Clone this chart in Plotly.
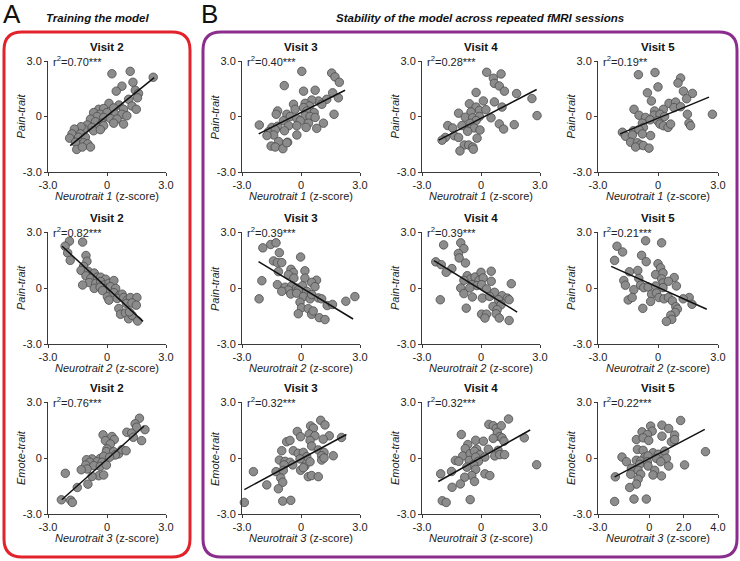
import plotly.graph_objects as go

W, H = 740, 561

# ---------------- data ----------------
# Panel A, row 1: Visit 2, Neurotrait 1 vs Pain-trait
a1_x = [0.25, 1.18, 2.35, 1.32, 0.76, 0.47, 1.44, 1.6, 1.55, 1.1, 0.1, 0.61, 1.27, 1.49, -0.42, -0.17, 0.34, 0.84,
        -0.68, -0.34, 0.0, 0.42, 0.76, -0.51, -0.17, 0.17, 0.51, 1.01, -0.84, -0.59, -0.25, 0.34, 0.84, -1.01, -0.76,
        -0.42, -0.17, -1.18, -0.68, -0.34, -1.32, -1.66, -1.78, -1.35, -1.9, -1.44, -1.1, -1.6, -1.18, -0.98, -1.54,
        -0.84, -1.25]
a1_y = [2.31, 2.44, 2.12, 1.85, 1.64, 1.37, 1.42, 1.25, 1.01, 0.93, 0.71, 0.62, 0.57, 0.39, 0.39, 0.43, 0.46, 0.39,
        0.21, 0.12, 0.21, 0.12, 0.12, 0.0, -0.05, -0.11, -0.14, 0.04, -0.14, -0.28, -0.36, -0.36, -0.41, -0.46, -0.59,
        -0.59, -0.5, -0.68, -0.77, -0.71, -0.55, -0.68, -0.94, -0.94, -1.17, -1.12, -1.12, -1.39, -1.42, -1.48, -1.78,
        -1.65, -1.65]
a1_fit_x = [-1.87, 2.4]
a1_fit_y = [-1.57, 2.1]

# Panel A, row 2: Visit 2, Neurotrait 2 vs Pain-trait
a2_x = [-1.91, -2.13, -1.24, -2.0, -1.87, -1.07, -1.02, -1.19, -1.32, -0.95, -1.07, -0.65, -0.82, -0.49, -0.32, -0.07,
        -0.9, -0.57, -0.32, -0.15, 0.1, 0.35, -1.24, -0.65, -0.35, -0.02, 0.18, 0.44, -0.23, 0.02, 0.1, 0.35, 0.6, 0.77,
        0.52, 0.85, 1.02, 1.19, 1.52, 0.99, 1.27, 1.49, 0.6, 0.69, 0.94, 1.1, 1.27, 1.56, 1.14]
a2_y = [2.51, 2.24, 2.46, 1.88, 1.48, 1.74, 1.43, 1.16, 0.94, 0.89, 0.65, 0.8, 0.52, 0.58, 0.58, 0.47, 0.29, 0.25,
        0.34, 0.16, 0.25, 0.4, 0.16, -0.02, 0.04, -0.02, 0.07, -0.02, -0.14, -0.47, -0.65, -0.25, -0.43, -0.33, -0.56,
        -0.51, -0.65, -0.51, -0.51, -0.83, -0.8, -0.92, -1.1, -1.41, -1.34, -1.65, -1.46, -1.77, -1.28]
a2_fit_x = [-2.28, 1.83]
a2_fit_y = [2.24, -1.79]

# Panel A, row 3: Visit 2, Neurotrait 3 vs Emote-trait
a3_x = [1.65, 1.43, 1.93, 1.01, 1.26, 1.51, 1.34, 1.76, -0.2, 0.25, 0.37, -0.08, 0.17, 0.0, -0.03, 0.34, 0.59, 0.76,
        0.97, 0.42, -0.34, -0.17, 0.13, -0.76, -1.04, -0.87, -0.5, -0.25, -1.08, -0.67, -0.34, -0.03, -1.01, -1.31,
        -0.42, -0.17, -0.76, -0.97, -1.51, -2.12, -2.32, -1.85, -1.76]
a3_y = [2.13, 1.83, 1.52, 1.38, 1.34, 1.65, 1.11, 0.93, 1.24, 1.15, 0.99, 0.93, 0.75, 0.48, 0.34, 0.34, 0.22, 0.45,
        0.39, 0.16, -0.02, 0.09, 0.04, -0.05, -0.09, -0.23, -0.2, -0.23, -0.38, -0.41, -0.45, -0.38, -0.59, -0.63,
        -0.95, -0.91, -0.99, -1.4, -1.58, -0.82, -2.24, -2.26, -2.38]
a3_fit_x = [-2.3, 1.88]
a3_fit_y = [-2.24, 1.7]

# Panel B, row 1: Neurotrait 1 vs Pain-trait (Visits 3, 4, 5)
b11_x = [0.04, 1.56, 1.73, 1.95, -0.85, 0.13, 0.72, 1.61, 1.9, 1.31, 0.89, 0.55, -0.38, 0.21, 0.43, 1.06, 0.13, -1.19,
         -1.26, -0.72, -0.3, 0.3, 0.67, 1.68, -0.55, -0.21, 0.21, 0.46, 0.72, -0.89, -0.04, 0.38, 1.14, -2.12, -1.48,
         -1.19, -0.63, -0.21, 0.26, 0.8, -1.65, -1.31, -0.84, -0.21, -1.39, -1.73, -1.14, -0.68, -1.52, -1.31, -0.92,
         -0.72]
b11_y = [2.44, 2.35, 2.14, 1.85, 1.67, 1.37, 1.42, 1.28, 1.01, 0.93, 0.84, 0.89, 0.66, 0.71, 0.57, 0.66, 0.48, 0.3,
         0.12, 0.12, 0.39, 0.3, 0.21, 0.12, 0.0, -0.11, 0.04, 0.0, -0.05, -0.23, -0.23, -0.36, -0.36, -0.46, -0.59,
         -0.53, -0.5, -0.5, -0.59, -0.64, -0.82, -0.71, -0.77, -1.0, -1.0, -1.03, -1.35, -1.39, -1.6, -1.65, -1.74,
         -1.42]
b11_fit_x = [-2.15, 2.24]
b11_fit_y = [-0.94, 1.42]

b12_x = [0.29, 1.02, 0.63, 0.68, 0.93, 1.19, -0.25, 1.81, 2.59, 2.85, 0.68, 0.12, -0.59, 1.07, -0.25, -0.08, 0.25,
         -1.14, -0.51, -0.8, -0.42, -0.08, 0.51, 0.93, 1.15, 1.69, -0.25, -0.56, -0.97, -1.69, -1.44, -0.34, -0.05,
         -0.68, -1.36, -1.14, -1.81, -1.98, -0.2, -0.85, -0.63, -0.42, -0.39, -1.07]
b12_y = [2.39, 2.3, 2.07, 1.79, 1.65, 1.37, 1.3, 1.24, 0.97, 0.05, 0.79, 0.84, 0.69, 0.51, 0.51, 0.33, 0.37, 0.18,
         0.24, -0.04, -0.07, 0.0, -0.07, -0.4, -0.68, -0.44, -0.22, -0.37, -0.49, -0.49, -0.62, -0.62, -0.73, -0.8,
         -1.04, -1.13, -1.13, -1.28, -1.17, -1.54, -1.54, -1.65, -1.77, -1.86]
b12_fit_x = [-2.15, 2.83]
b12_fit_y = [-1.28, 1.46]

b13_x = [-0.15, -0.98, 1.13, 1.0, 0.0, 1.27, 1.72, -0.53, 1.43, -0.33, 0.55, 0.88, -1.2, 0.27, -0.17, 0.8, 1.13,
         -0.95, -0.2, 0.1, 0.33, 1.47, 2.72, -0.62, -0.4, -0.03, -0.78, 0.1, 0.27, 0.5, 0.63, 1.55, 1.63, -0.73,
         -1.23, -0.95, -1.78, -1.62, -1.28, -0.78, -0.37, -1.37, -1.03, -0.87, -1.12, -0.73, -0.45]
b13_y = [2.38, 2.26, 2.08, 1.81, 1.6, 1.37, 1.25, 1.28, 0.96, 0.84, 0.71, 0.78, 0.39, 0.39, 0.3, 0.48, 0.53, 0.07,
         0.07, 0.12, 0.0, 0.12, 0.12, -0.05, -0.18, -0.23, -0.36, -0.41, -0.5, -0.59, -0.41, -0.36, -0.5, -0.59,
         -0.77, -0.71, -0.85, -1.07, -1.0, -0.94, -1.03, -1.39, -1.42, -1.53, -1.65, -1.57, -1.71]
b13_fit_x = [-1.9, 2.55]
b13_fit_y = [-0.94, 1.05]

# Panel B, row 2: Neurotrait 2 vs Pain-trait (Visits 3, 4, 5)
b21_x = [-1.54, -1.27, -1.94, -1.1, -1.4, -1.2, -0.98, -0.02, -1.15, -0.51, -0.39, 0.2, -0.64, -0.36, 0.2, 0.79, 0.54,
         -1.99, -1.2, -0.81, -0.47, -0.22, 0.08, 0.71, -0.64, -0.14, 0.29, -0.98, -0.52, -0.22, 0.12, 0.46, 0.88,
         1.05, 0.54, -2.13, -0.05, 1.33, 1.6, 2.28, 2.74, 0.03, 0.37, -0.14, 0.54, 0.93, 1.22, 0.62]
b21_y = [2.33, 2.42, 2.15, 1.89, 1.45, 1.36, 1.36, 1.66, 0.88, 1.0, 0.83, 0.92, 0.71, 0.53, 0.53, 0.42, 0.3, 0.39,
         0.18, 0.04, 0.12, 0.0, 0.12, 0.07, -0.11, -0.11, -0.18, -0.18, -0.32, -0.28, -0.46, -0.58, -0.53, -0.58,
         -0.35, -0.58, -0.76, -0.94, -0.88, -0.71, -0.46, -1.06, -1.11, -1.38, -1.41, -1.59, -1.69, -1.23]
b21_fit_x = [-2.16, 2.65]
b21_fit_y = [1.41, -1.66]

b22_x = [-1.9, -1.03, -0.87, -1.15, -1.11, -0.79, -2.3, -2.02, -1.48, -1.77, -0.7, -0.54, -0.3, 0.0, 0.52, 0.52,
         -0.1, 0.11, -0.87, -0.46, -0.21, 0.03, -1.03, -0.57, 0.28, 0.69, 1.07, 1.54, -0.87, -0.44, 0.07, 0.44, 0.89,
         1.34, 1.43, -2.07, 0.61, 1.02, -0.75, 0.82, 0.03, 0.28, 0.2, 0.77, 0.93, 1.43]
b22_y = [2.31, 2.42, 2.11, 1.85, 1.61, 1.34, 1.4, 1.25, 1.04, 0.84, 0.66, 0.48, 0.59, 0.84, 0.9, 0.36, 0.41, 0.54,
         0.41, 0.18, 0.13, 0.18, 0.0, 0.0, -0.05, -0.23, -0.41, 0.23, -0.3, -0.48, -0.54, -0.45, -0.63, -0.54, -0.63,
         -0.63, -0.99, -0.9, -1.08, -1.16, -1.4, -1.4, -1.61, -1.38, -1.61, -1.74]
b22_fit_x = [-2.39, 1.84]
b22_fit_y = [1.47, -1.29]

b23_x = [-2.05, -0.62, 0.18, -1.77, -0.82, -2.17, -0.59, 0.0, 0.13, -1.43, -1.01, -0.12, 0.25, 0.18, 0.81, -1.71,
         -0.96, 0.25, 0.52, -1.63, -1.21, -0.87, -0.71, -0.49, -0.12, 0.25, 0.92, -1.49, -1.29, -0.32, -0.08, -0.37,
         0.05, 0.3, 0.52, 0.72, 0.89, 0.97, 0.86, 0.64, 0.69, 0.42, -0.76, 1.56, 1.7, 1.26]
b23_y = [2.24, 2.53, 2.42, 1.93, 1.75, 1.48, 1.41, 1.3, 1.08, 0.87, 0.94, 0.72, 0.81, 0.49, 0.56, 0.4, 0.51, 0.27,
         0.36, 0.15, -0.09, 0.15, 0.02, 0.05, 0.11, 0.02, 0.11, -0.64, -0.51, -0.33, -0.27, -0.72, -0.51, -0.58, -0.51,
         -0.69, -1.0, -1.13, -1.31, -1.46, -1.68, -1.79, -1.09, -0.51, -0.87, -0.58]
b23_fit_x = [-2.34, 2.44]
b23_fit_y = [1.16, -1.14]

# Panel B, row 3: Neurotrait 3 vs Emote-trait (Visits 3, 4, 5)
b31_x = [1.0, 1.22, 0.49, 0.63, -0.19, 0.42, -0.02, 0.71, 1.44, 1.13, 2.06, -0.73, -0.56, 0.46, 0.54, -0.98, -0.39,
         -0.14, 0.12, 0.88, 1.17, 1.64, 1.05, 0.29, -1.1, -0.81, -0.56, -0.05, 1.05, 1.17, -0.86, -0.42, 0.2, 0.46,
         -2.42, -1.27, -0.9, -0.02, 0.12, 0.37, 0.54, 0.88, -1.03, -0.93, -1.74, -1.15, -0.93, -0.52, -2.88]
b31_y = [2.02, 1.77, 1.72, 1.6, 1.42, 1.28, 1.14, 1.19, 1.19, 1.01, 1.1, 0.87, 0.94, 0.94, 0.64, 0.39, 0.39, 0.25,
         0.3, 0.43, 0.3, 0.12, 0.12, 0.07, -0.11, -0.18, -0.23, -0.05, -0.11, 0.0, -0.37, -0.37, -0.43, -0.2, -0.73,
         -0.73, -0.66, -0.66, -0.52, -1.0, -0.94, -1.0, -1.07, -1.3, -1.44, -1.65, -2.31, -2.27, -2.38]
b31_fit_x = [-2.88, 2.31]
b31_fit_y = [-1.69, 1.26]

b32_x = [1.4, 0.4, 0.62, 0.78, 1.03, 0.83, 0.95, 0.62, 1.07, 1.17, 2.2, -1.0, -0.27, 0.12, -0.67, -0.8, -0.22, 0.37,
         0.87, -0.93, -1.3, -1.13, -0.55, -0.33, -0.05, 0.2, 0.7, 0.95, 1.2, -0.6, -0.27, -0.13, -0.38, -0.72, -0.27,
         -0.47, -0.83, 0.2, 0.45, -2.05, -1.5, -0.33, -1.47, -1.05, -1.97, -1.77, -0.55, 2.83]
b32_y = [2.09, 1.8, 1.73, 1.59, 1.73, 1.37, 1.14, 1.05, 1.08, 0.9, 1.08, 1.26, 0.95, 0.9, 0.72, 0.5, 0.47, 0.47, 0.41,
         0.11, -0.13, -0.18, 0.23, 0.36, 0.18, 0.05, 0.11, 0.18, 0.18, -0.13, 0.05, -0.18, -0.36, -0.49, -0.61, -0.94,
         -1.03, -0.85, -0.94, -0.85, -0.72, -1.26, -1.57, -1.39, -2.29, -2.38, -2.23, -0.36]
b32_fit_x = [-2.17, 2.5]
b32_fit_y = [-1.26, 1.5]

b33_x = [1.82, 0.07, 0.73, 1.12, 0.16, -0.43, -0.12, 1.47, 0.73, -0.76, -0.37, -0.04, 1.28, 1.47, -0.7, -0.37, 0.21,
         0.51, 0.89, 3.27, -1.6, -0.27, -0.08, 0.41, 0.99, -1.34, -0.76, -0.51, -0.12, 0.66, -0.57, -0.08, 1.12, 2.05,
         -1.05, -0.66, 0.31, -1.09, -0.51, 0.21, 0.7, -1.99, -0.66, -0.76, -1.15, -0.9, -0.18, -2.03]
b33_y = [2.01, 1.71, 1.76, 1.58, 1.44, 1.4, 1.26, 1.23, 1.17, 0.99, 1.08, 0.94, 0.87, 0.99, 0.46, 0.41, 0.28, 0.2,
         0.37, 0.34, 0.05, 0.05, 0.11, -0.02, -0.02, -0.2, -0.12, -0.16, -0.2, -0.2, -0.34, -0.43, -0.43, -0.37, -0.55,
         -0.66, -0.66, -0.87, -0.87, -0.91, -0.96, -1.01, -1.14, -1.4, -1.58, -2.2, -2.2, -2.33]
b33_fit_x = [-2.03, 3.23]
b33_fit_y = [-1.01, 1.53]

# Text
visit_titles = ["Visit 2", "Visit 3", "Visit 4", "Visit 5"]
r2_labels = [["0.70***", "0.40***", "0.28***", "0.19**"],
             ["0.82***", "0.39***", "0.39***", "0.21***"],
             ["0.76***", "0.32***", "0.32***", "0.22***"]]
row_x_titles = ["Neurotrait 1", "Neurotrait 2", "Neurotrait 3"]
row_y_titles = ["Pain-trait", "Pain-trait", "Emote-trait"]
std_ticks = [-3, 0, 3]
std_tick_text = ["-3.0", "0", "3.0"]
wide_ticks = [-3, 0, 2, 4]
wide_tick_text = ["-3.0", "0", "2.0", "4.0"]

# ---------------- layout geometry (pixels) ----------------
col_px = [(48, 166), (242, 360), (422, 540), (598, 718)]
row_px = [(61, 172), (232, 344), (402, 514)]

data_grid = [
    [(a1_x, a1_y, a1_fit_x, a1_fit_y), (b11_x, b11_y, b11_fit_x, b11_fit_y),
     (b12_x, b12_y, b12_fit_x, b12_fit_y), (b13_x, b13_y, b13_fit_x, b13_fit_y)],
    [(a2_x, a2_y, a2_fit_x, a2_fit_y), (b21_x, b21_y, b21_fit_x, b21_fit_y),
     (b22_x, b22_y, b22_fit_x, b22_fit_y), (b23_x, b23_y, b23_fit_x, b23_fit_y)],
    [(a3_x, a3_y, a3_fit_x, a3_fit_y), (b31_x, b31_y, b31_fit_x, b31_fit_y),
     (b32_x, b32_y, b32_fit_x, b32_fit_y), (b33_x, b33_y, b33_fit_x, b33_fit_y)],
]

FONT = "Arial, Liberation Sans, sans-serif"
AX_COLOR = "#3a3a3a"


def px_x(p):
    return p / W


def px_y(p):
    return 1 - p / H


fig = go.Figure()
layout = {}
annotations = []

idx = 0
for r in range(3):
    for c in range(4):
        idx += 1
        sfx = "" if idx == 1 else str(idx)
        xs, ys, fx, fy = data_grid[r][c]
        x0, x1 = col_px[c]
        y0, y1 = row_px[r]
        wide = (r == 2 and c == 3)
        xr = [-3, 4] if wide else [-3, 3]
        xt = wide_ticks if wide else std_ticks
        xtt = wide_tick_text if wide else std_tick_text

        fig.add_trace(go.Scatter(
            x=xs, y=ys, mode="markers", xaxis="x" + sfx, yaxis="y" + sfx,
            marker=dict(size=8.5, color="#8c8c8c", line=dict(color="#4d4d4d", width=0.8)),
            cliponaxis=False, showlegend=False, hoverinfo="skip"))
        fig.add_trace(go.Scatter(
            x=fx, y=fy, mode="lines", xaxis="x" + sfx, yaxis="y" + sfx,
            line=dict(color="#111111", width=1.5),
            cliponaxis=False, showlegend=False, hoverinfo="skip"))

        common = dict(showline=True, linecolor=AX_COLOR, linewidth=1, ticks="outside", ticklen=3,
                      tickcolor=AX_COLOR, tickwidth=1, showgrid=False, zeroline=False, automargin=False,
                      tickfont=dict(family=FONT, size=11, color="#222222"), fixedrange=True)
        layout["xaxis" + sfx] = dict(domain=[px_x(x0), px_x(x1)], range=xr, tickvals=xt, ticktext=xtt,
                                     anchor="y" + sfx, **common)
        layout["yaxis" + sfx] = dict(domain=[px_y(y1), px_y(y0)], range=[-3, 3], tickvals=std_ticks,
                                     ticktext=std_tick_text, anchor="x" + sfx, **common)

        xc = (x0 + x1) / 2
        # subplot title
        annotations.append(dict(x=px_x(xc), y=px_y(y0 - 14), xref="paper", yref="paper",
                                text="<b>" + visit_titles[c] + "</b>", showarrow=False,
                                font=dict(family=FONT, size=11.5, color="#111111"),
                                xanchor="center", yanchor="middle"))
        # r^2 label
        annotations.append(dict(x=px_x(x0 + 3), y=px_y(y0), xref="paper", yref="paper",
                                text="r<sup>2</sup>=" + r2_labels[r][c], showarrow=False,
                                font=dict(family=FONT, size=11, color="#222222"),
                                xanchor="left", yanchor="middle"))
        # x title
        annotations.append(dict(x=px_x(xc), y=px_y(y1 + 24), xref="paper", yref="paper",
                                text="<i>" + row_x_titles[r] + "</i> (z-score)", showarrow=False,
                                font=dict(family=FONT, size=11, color="#222222"),
                                xanchor="center", yanchor="middle"))
        # y title
        annotations.append(dict(x=px_x(x0 - 27), y=px_y((y0 + y1) / 2), xref="paper", yref="paper",
                                text="<i>" + row_y_titles[r] + "</i>", showarrow=False, textangle=-90,
                                font=dict(family=FONT, size=11, color="#222222"),
                                xanchor="center", yanchor="middle"))

# Panel letters and headings
annotations.append(dict(x=px_x(1), y=px_y(14), xref="paper", yref="paper", text="A", showarrow=False,
                        font=dict(family=FONT, size=26, color="#111111"), xanchor="left", yanchor="middle"))
annotations.append(dict(x=px_x(199), y=px_y(14), xref="paper", yref="paper", text="B", showarrow=False,
                        font=dict(family=FONT, size=26, color="#111111"), xanchor="left", yanchor="middle"))
annotations.append(dict(x=px_x(97), y=px_y(18), xref="paper", yref="paper", text="<b><i>Training the model</i></b>",
                        showarrow=False, font=dict(family=FONT, size=11.5, color="#111111"),
                        xanchor="center", yanchor="middle"))
annotations.append(dict(x=px_x(480), y=px_y(18), xref="paper", yref="paper",
                        text="<b><i>Stability of the model across repeated fMRI sessions</i></b>",
                        showarrow=False, font=dict(family=FONT, size=11.5, color="#111111"),
                        xanchor="center", yanchor="middle"))


def rounded_rect(l, t, r, b, rad):
    xl, xr_ = px_x(l), px_x(r)
    yt, yb = px_y(t), px_y(b)
    rx, ry = rad / W, rad / H
    return (f"M {xl + rx},{yt} L {xr_ - rx},{yt} Q {xr_},{yt} {xr_},{yt - ry} "
            f"L {xr_},{yb + ry} Q {xr_},{yb} {xr_ - rx},{yb} "
            f"L {xl + rx},{yb} Q {xl},{yb} {xl},{yb + ry} "
            f"L {xl},{yt - ry} Q {xl},{yt} {xl + rx},{yt} Z")


shapes = [
    dict(type="path", xref="paper", yref="paper", path=rounded_rect(4, 32, 190, 557, 18),
         line=dict(color="#e2232b", width=3), layer="below"),
    dict(type="path", xref="paper", yref="paper", path=rounded_rect(203, 32, 737, 557, 18),
         line=dict(color="#8b2d8d", width=3), layer="below"),
]

fig.update_layout(width=W, height=H, margin=dict(l=0, r=0, t=0, b=0, pad=0, autoexpand=False),
                  paper_bgcolor="white", plot_bgcolor="white", annotations=annotations, shapes=shapes,
                  font=dict(family=FONT), **layout)

fig.write_html("out.html", config={"displayModeBar": False, "staticPlot": True},
               post_script="document.body.style.margin='0';document.body.style.overflow='hidden';")
